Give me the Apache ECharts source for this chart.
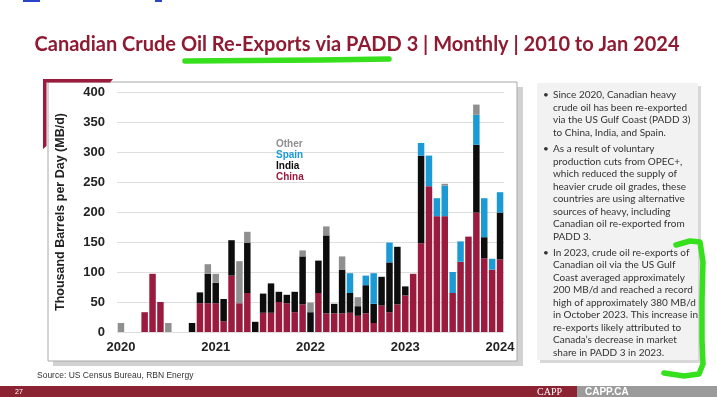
<!DOCTYPE html>
<html>
<head>
<meta charset="utf-8">
<script src="https://cdn.jsdelivr.net/npm/echarts@6/dist/echarts.min.js"></script>
<style>
  html, body { margin: 0; padding: 0; background: #fff; }
  #chart { width: 717px; height: 397px; }
</style>
</head>
<body>
<div id="chart"></div>
<script>
// monthly categories, Jan 2020 .. Jan 2024
const months = [
  'Jan 2020','Feb 2020','Mar 2020','Apr 2020','May 2020','Jun 2020','Jul 2020','Aug 2020','Sep 2020','Oct 2020','Nov 2020','Dec 2020',
  'Jan 2021','Feb 2021','Mar 2021','Apr 2021','May 2021','Jun 2021','Jul 2021','Aug 2021','Sep 2021','Oct 2021','Nov 2021','Dec 2021',
  'Jan 2022','Feb 2022','Mar 2022','Apr 2022','May 2022','Jun 2022','Jul 2022','Aug 2022','Sep 2022','Oct 2022','Nov 2022','Dec 2022',
  'Jan 2023','Feb 2023','Mar 2023','Apr 2023','May 2023','Jun 2023','Jul 2023','Aug 2023','Sep 2023','Oct 2023','Nov 2023','Dec 2023',
  'Jan 2024'
];

// MB/d by destination
const china = [
  0, 0, 0, 33, 97, 50, 0, 0, 0, 0, 48, 48,
  48, 18, 94, 48, 65, 0, 32, 32, 50, 48, 33, 46,
  0, 65, 31, 31, 31, 32, 27, 31, 15, 44, 33, 46,
  61, 97, 148, 243, 193, 193, 65, 117, 159, 199, 123, 104,
  121
];
const india = [
  0, 0, 0, 0, 0, 0, 0, 0, 0, 15, 18, 49,
  34, 37, 59, 0, 84, 17, 32, 49, 17, 14, 34, 80,
  33, 54, 130, 16, 73, 33, 16, 47, 32, 48, 83, 96,
  15, 0, 146, 0, 0, 0, 0, 0, 0, 113, 35, 0,
  78
];
const spain = [
  0, 0, 0, 0, 0, 0, 0, 0, 0, 0, 0, 0,
  0, 0, 0, 0, 0, 0, 0, 0, 0, 0, 0, 0,
  0, 0, 0, 0, 0, 33, 0, 16, 51, 0, 33, 0,
  0, 0, 21, 51, 30, 51, 35, 34, 0, 50, 65, 18,
  34
];
const other = [
  15, 0, 0, 0, 0, 0, 15, 0, 0, 0, 0, 16,
  15, 0, 0, 70, 18, 0, 0, 0, 0, 0, 0, 10,
  16, 0, 15, 0, 22, 0, 15, 0, 0, 0, 0, 0,
  0, 0, 0, 0, 0, 3, 0, 0, 0, 17, 0, 0,
  0
];

const yMin = 0, yMax = 400, yStep = 50;

const colors = { China: '#9b1b3e', India: '#0d0d0d', Spain: '#1b9ad6', Other: '#8f8f8f' };

const bullets = [
  'Since 2020, Canadian heavy\ncrude oil has been re-exported\nvia the US Gulf Coast (PADD 3)\nto China, India, and Spain.',
  'As a result of voluntary\nproduction cuts from OPEC+,\nwhich reduced the supply of\nheavier crude oil grades, these\ncountries are using alternative\nsources of heavy, including\nCanadian oil re-exported from\nPADD 3.',
  'In 2023, crude oil re-exports of\nCanadian oil via the US Gulf\nCoast averaged approximately\n200 MB/d and reached a record\nhigh of approximately 380 MB/d\nin October 2023. This increase in\nre-exports likely attributed to\nCanada\u2019s decrease in market\nshare in PADD 3 in 2023.'
];
const bulletTops = [89, 143, 246.5];

const chart = echarts.init(document.getElementById('chart'));

const txt = (x, y, text, font, fill, align, extra) => Object.assign({
  type: 'text', x: x, y: y, silent: true,
  style: { text: text, font: font, fill: fill, align: align || 'left', textAlign: align || 'left', verticalAlign: 'middle', textVerticalAlign: 'middle' }
}, extra || {});

const graphics = [
  // chart panel with shadow
  { type: 'rect', z: -10, silent: true, shape: { x: 53, y: 87, width: 470, height: 279 }, style: { fill: '#d2d2d2' } },
  { type: 'rect', z: -9, silent: true, shape: { x: 48, y: 82, width: 469, height: 279 }, style: { fill: '#fff', stroke: '#a8a8a8', lineWidth: 1 } },
  // commentary box
  { type: 'rect', z: -10, silent: true, shape: { x: 540, y: 86, width: 161, height: 277 }, style: { fill: '#d8d8d8' } },
  { type: 'rect', z: -9, silent: true, shape: { x: 537, y: 83, width: 161, height: 277 }, style: { fill: '#f2f2f2' } },
  // red corner mark
  { type: 'polygon', silent: true, shape: { points: [[43, 79], [113, 79], [110, 82.5], [46.5, 82.5], [46.5, 146], [43, 149]] }, style: { fill: '#9b1b3e' } },
  // bits of cut-off heading at the very top
  { type: 'rect', silent: true, shape: { x: 23, y: 0, width: 17, height: 2 }, style: { fill: '#2a45c8' } },
  { type: 'rect', silent: true, shape: { x: 155, y: 0, width: 7, height: 2 }, style: { fill: '#2a45c8' } },
  // title
  txt(357, 45, 'Canadian Crude Oil Re-Exports via PADD 3 | Monthly | 2010 to Jan 2024', 'bold 20px Lato', '#8e1b32', 'center'),
  // green highlighter strokes
  { type: 'polyline', silent: true, shape: { points: [[185, 61], [250, 60.5], [320, 60], [389, 59]] }, style: { stroke: '#36e01c', lineWidth: 5.5, lineCap: 'round', fill: null } },
  { type: 'polyline', silent: true, z: 5, shape: { points: [[676, 245], [690, 241], [700, 242], [703, 262], [702, 300], [702, 340], [703, 364], [699, 374], [684, 376], [664, 373]] }, style: { stroke: '#36e01c', lineWidth: 5.5, lineJoin: 'round', lineCap: 'round', fill: null } },
  // source
  txt(37, 376, 'Source: US Census Bureau, RBN Energy', '8.5px "Liberation Sans"', '#333'),
  // footer band
  { type: 'rect', silent: true, shape: { x: 0, y: 386, width: 577, height: 11 }, style: { fill: '#8c2333' } },
  { type: 'rect', silent: true, shape: { x: 577, y: 386, width: 140, height: 11 }, style: { fill: '#9b9b9b' } },
  txt(15, 392, '27', '7px "Liberation Sans"', '#fff'),
  txt(537, 392, 'CAPP', '10px "Liberation Serif"', '#fff'),
  txt(585, 392, 'CAPP.CA', 'bold 10px "Liberation Sans"', '#fff')
];

bullets.forEach((b, i) => {
  graphics.push(txt(543, bulletTops[i] + 6, '\u2022', '10px Lato', '#333'));
  graphics.push({
    type: 'text', x: 553, y: bulletTops[i], silent: true,
    style: { text: b, font: '10px Lato', fill: '#333', lineHeight: 12.5, align: 'left', textAlign: 'left', verticalAlign: 'top', textVerticalAlign: 'top' }
  });
});

const mkSeries = (name, data) => ({
  name: name,
  type: 'bar',
  stack: 'total',
  data: data,
  barCategoryGap: '18%',
  itemStyle: { color: colors[name] },
  emphasis: { disabled: true }
});

chart.setOption({
  animation: false,
  grid: { left: 117, right: 213, top: 92, bottom: 65 },
  legend: {
    orient: 'vertical',
    left: 266,
    top: 134,
    itemGap: 0,
    itemWidth: 0,
    itemHeight: 0,
    selectedMode: false,
    data: ['Other', 'Spain', 'India', 'China'].map(n => ({
      name: n,
      textStyle: { color: colors[n] }
    })),
    textStyle: { fontFamily: 'Liberation Sans', fontWeight: 'bold', fontSize: 10, lineHeight: 11 }
  },
  xAxis: {
    type: 'category',
    data: months,
    axisLine: { show: false },
    axisTick: { show: false },
    axisLabel: {
      interval: (idx) => idx % 12 === 0,
      formatter: (v) => v.slice(-4),
      fontFamily: 'Liberation Sans',
      fontWeight: 'bold',
      fontSize: 13,
      color: '#222',
      margin: 9
    }
  },
  yAxis: {
    type: 'value',
    min: yMin,
    max: yMax,
    interval: yStep,
    name: 'Thousand Barrels per Day (MB/d)',
    nameLocation: 'middle',
    nameRotate: 90,
    nameGap: 50,
    nameTextStyle: { fontFamily: 'Liberation Sans', fontWeight: 'bold', fontSize: 12.5, color: '#222' },
    axisLine: { show: false },
    axisTick: { show: false },
    splitLine: { lineStyle: { color: '#dedede', width: 1 } },
    axisLabel: { fontFamily: 'Liberation Sans', fontWeight: 'bold', fontSize: 13, color: '#222', margin: 12 }
  },
  graphic: graphics,
  series: [
    mkSeries('China', china),
    mkSeries('India', india),
    mkSeries('Spain', spain),
    mkSeries('Other', other)
  ]
});
</script>
</body>
</html>
